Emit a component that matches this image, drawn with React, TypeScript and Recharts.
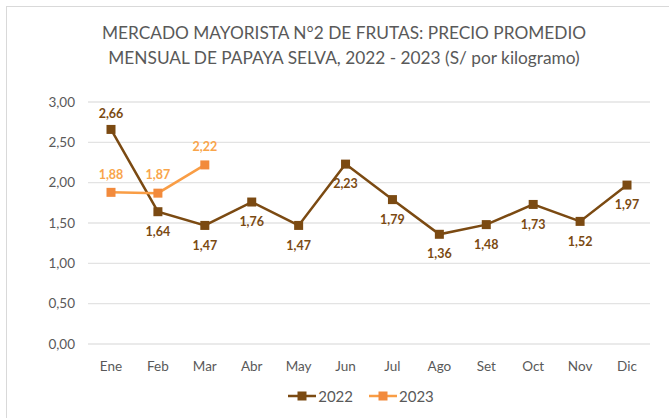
import React from 'react';
import { LineChart, Line, XAxis, YAxis, CartesianGrid, LabelList } from 'recharts';

const months = ['Ene', 'Feb', 'Mar', 'Abr', 'May', 'Jun', 'Jul', 'Ago', 'Set', 'Oct', 'Nov', 'Dic'];
const precio2022 = [2.66, 1.64, 1.47, 1.76, 1.47, 2.23, 1.79, 1.36, 1.48, 1.73, 1.52, 1.97];
const precio2023 = [1.88, 1.87, 2.22, null, null, null, null, null, null, null, null, null];
const yTicks = [0, 0.5, 1, 1.5, 2, 2.5, 3];

const data = months.map((m, i) => ({ mes: m, y2022: precio2022[i], y2023: precio2023[i] }));

const colors = {
  y2022: '#7B4A12',
  y2023: '#F99D45',
  marker2023: '#F28A3C',
  label2023: '#F9A54B',
  text: '#595959',
  grid: '#E3E3E3'
};

const font = 'Lato, "Open Sans", sans-serif';
const fmt = (v: number) => v.toFixed(2).replace('.', ',');

const SquareDot = (color: string) => (props: any) => {
  const { cx, cy, index } = props;
  if (cx == null || cy == null || props.value == null) return <g key={index} />;
  return <rect key={index} x={cx - 4.5} y={cy - 4.5} width={9} height={9} fill={color} />;
};

const makeLabel = (color: string, offsetFor: (i: number) => number) => (props: any) => {
  const { x, y, value, index } = props;
  if (value == null) return null;
  return (
    <text
      x={x}
      y={y + offsetFor(index)}
      textAnchor="middle"
      dominantBaseline="middle"
      fill={color}
      fontSize={12.5}
      fontWeight="bold"
      fontFamily={font}
    >
      {fmt(value)}
    </text>
  );
};

const LegendItem = ({ color, marker, label }: { color: string; marker: string; label: string }) => (
  <div style={{ display: 'flex', alignItems: 'center', marginRight: 16 }}>
    <svg width={28} height={12}>
      <line x1={0} y1={6} x2={28} y2={6} stroke={color} strokeWidth={2.5} />
      <rect x={9.5} y={1.5} width={9} height={9} fill={marker} />
    </svg>
    <span style={{ marginLeft: 2 }}>{label}</span>
  </div>
);

export default function App() {
  return (
    <div style={{ position: 'absolute', left: 0, top: 0, width: 669, height: 418, overflow: 'hidden', background: '#fff', fontFamily: font }}>
      <div style={{ position: 'absolute', left: 6, top: 6, width: 720, height: 480, border: '1px solid #D9D9D9' }} />
      <div style={{ position: 'absolute', left: 0, top: 20, width: 688, textAlign: 'center', color: colors.text, fontSize: 17.3, lineHeight: '25px' }}>
        MERCADO MAYORISTA N°2 DE FRUTAS: PRECIO PROMEDIO
        <br />
        MENSUAL DE PAPAYA SELVA, 2022 - 2023 (S/ por kilogramo)
      </div>
      <div style={{ position: 'absolute', left: 0, top: 0 }}>
        <LineChart width={669} height={418} data={data} margin={{ top: 102, right: 19, bottom: 44, left: 0 }}>
          <CartesianGrid vertical={false} stroke={colors.grid} strokeWidth={1.3} />
          <XAxis
            dataKey="mes"
            axisLine={false}
            tickLine={false}
            height={30}
            tickMargin={11}
            padding={{ left: 23, right: 23 }}
            tick={{ fill: colors.text, fontSize: 13.5, fontFamily: font }}
          />
          <YAxis
            domain={[0, 3]}
            ticks={yTicks}
            width={88}
            axisLine={false}
            tickLine={false}
            tickMargin={7}
            tickFormatter={fmt}
            tick={{ fill: colors.text, fontSize: 13.5, fontFamily: font }}
          />
          <Line
            dataKey="y2022"
            stroke={colors.y2022}
            strokeWidth={2.5}
            dot={SquareDot(colors.y2022)}
            activeDot={false}
            isAnimationActive={false}
          >
            <LabelList dataKey="y2022" content={makeLabel(colors.y2022, (i) => (i === 0 ? -15 : 21))} />
          </Line>
          <Line
            dataKey="y2023"
            stroke={colors.y2023}
            strokeWidth={2.5}
            dot={SquareDot(colors.marker2023)}
            activeDot={false}
            connectNulls={false}
            isAnimationActive={false}
          >
            <LabelList dataKey="y2023" content={makeLabel(colors.label2023, () => -17)} />
          </Line>
        </LineChart>
      </div>
      <div style={{ position: 'absolute', left: 88, top: 387, width: 562, display: 'flex', justifyContent: 'center', color: colors.text, fontSize: 15 }}>
        <LegendItem color={colors.y2022} marker={colors.y2022} label="2022" />
        <LegendItem color={colors.y2023} marker={colors.marker2023} label="2023" />
      </div>
    </div>
  );
}
